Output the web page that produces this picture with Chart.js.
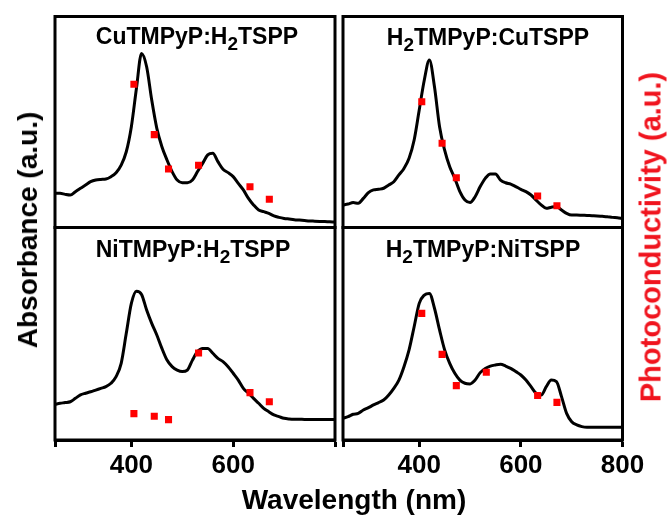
<!DOCTYPE html>
<html>
<head>
<meta charset="utf-8">
<script src="https://cdn.jsdelivr.net/npm/chart.js@4.4.1/dist/chart.umd.min.js"></script>
<style>
  html, body { margin: 0; padding: 0; background: #fff; }
  #wrap { position: relative; width: 669px; height: 518px; overflow: hidden; }
  #wrap canvas { position: absolute; left: 0; top: 0; }
  .lbl { position: absolute; font-family: 'Liberation Sans', Arial, sans-serif; font-weight: bold; white-space: nowrap; color: #000; }
  .ttl { font-size: 23px; line-height: 23px; transform: translateX(-50%); }
  .ttl .s { font-size: 19px; position: relative; top: 6px; }
  #ylab { left: 28px; top: 230px; font-size: 28px; line-height: 28px; transform: translate(-50%, -50%) rotate(-90deg); }
  #y2lab { left: 651px; top: 237px; font-size: 29px; line-height: 29px; color: #f0141e; transform: translate(-50%, -50%) rotate(-90deg); }
  #xlab { left: 354px; top: 486px; font-size: 28px; line-height: 28px; transform: translateX(-50%); }
</style>
</head>
<body>
<div id="wrap">
  <canvas id="c1" width="669" height="518"></canvas>
  <canvas id="c2" width="669" height="518"></canvas>
  <canvas id="c3" width="669" height="518"></canvas>
  <canvas id="c4" width="669" height="518"></canvas>
  <div class="lbl ttl" style="left:197px;top:25px">CuTMPyP:H<span class="s">2</span>TSPP</div>
  <div class="lbl ttl" style="left:488px;top:26px">H<span class="s">2</span>TMPyP:CuTSPP</div>
  <div class="lbl ttl" style="left:193px;top:238px">NiTMPyP:H<span class="s">2</span>TSPP</div>
  <div class="lbl ttl" style="left:483px;top:238px">H<span class="s">2</span>TMPyP:NiTSPP</div>
  <div class="lbl" id="ylab">Absorbance (a.u.)</div>
  <div class="lbl" id="y2lab">Photoconductivity (a.u.)</div>
  <div class="lbl" id="xlab">Wavelength (nm)</div>
</div>
<script>
// wavelength grid of the absorbance spectra (nm)
const wavelength = [250, 260, 270, 280, 290, 300, 310, 320, 330, 340, 350, 360, 370, 380, 390,
  400, 410, 420, 430, 440, 450, 460, 470, 480, 490, 500, 510, 520, 530, 540, 550, 560, 570, 580,
  590, 600, 610, 620, 630, 640, 650, 660, 670, 680, 690, 700, 710, 720, 730, 740, 750, 760, 770,
  780, 790, 800];

// absorbance (a.u.)
const absCuH2 = [16.2, 16.2, 15.7, 15.4, 17.0, 18.6, 20.1, 21.7, 22.5, 22.8, 23.0, 24.1, 26.0, 29.6, 35.9,
  47.8, 66.0, 82.5, 76.2, 60.4, 47.0, 38.3, 32.0, 26.5, 22.5, 21.2, 21.2, 22.5, 26.5, 30.4, 34.4, 35.2, 31.2, 27.6,
  26.0, 24.1, 20.9, 17.8, 13.8, 10.7, 8.3, 7.5, 6.7, 5.5, 4.8, 4.3, 4.0, 3.7, 3.5, 3.3, 3.1, 3.0, 2.9,
  2.8, 2.7, 2.6];
const absH2Cu = [10.7, 11.1, 11.8, 11.5, 13.8, 16.5, 17.8, 18.1, 18.6, 20.1, 21.7, 24.9, 28.0, 32.8, 41.5,
  55.7, 69.9, 79.4, 66.7, 47.8, 36.7, 28.8, 23.3, 17.0, 13.0, 11.8, 14.6, 19.4, 23.3, 25.4, 25.4, 22.5, 21.2, 20.6,
  19.4, 18.1, 17.0, 15.4, 13.0, 10.7, 9.1, 9.6, 9.9, 8.3, 6.7, 5.9, 5.9, 5.8, 5.7, 5.6, 5.5, 5.3, 5.1,
  4.8, 4.6, 4.3];
const absNiH2 = [16.8, 17.3, 17.6, 18.0, 19.6, 21.2, 22.0, 22.7, 23.5, 24.3, 25.1, 26.7, 29.8, 36.1, 50.2,
  64.3, 70.0, 68.5, 61.2, 54.9, 49.4, 43.1, 37.6, 34.5, 32.9, 32.2, 32.9, 37.6, 41.6, 43.1, 43.1, 40.8, 38.4, 36.9,
  34.5, 31.4, 28.2, 24.3, 22.0, 19.6, 17.3, 14.9, 13.3, 11.8, 11.0, 10.2, 9.9, 9.8, 9.8, 9.7, 9.7, 9.7, 9.7,
  9.7, 9.7, 9.7];
const absH2Ni = [10.2, 11.0, 12.1, 12.5, 14.1, 15.2, 16.5, 17.6, 18.8, 21.2, 24.3, 28.2, 34.5, 42.4, 53.3,
  64.3, 68.2, 69.0, 62.0, 51.8, 42.4, 36.1, 31.4, 28.2, 26.7, 26.4, 28.2, 31.7, 33.7, 34.8, 35.3, 35.6, 34.8, 33.7,
  32.2, 30.6, 28.2, 25.1, 22.0, 21.2, 25.1, 28.2, 27.5, 20.4, 12.5, 8.6, 7.1, 6.3, 6.0, 6.0, 6.0, 6.0, 6.0,
  6.0, 6.0, 6.0];

// photoconductivity (a.u.) at the laser lines
const laserNm = [405, 445, 473, 532, 633, 671];
const photoCuH2 = [67.9, 44.0, 27.7, 29.5, 19.3, 13.4];
const photoH2Cu = [59.6, 39.9, 23.6, null, 14.9, 10.3];
const photoNiH2 = [12.4, 11.2, 9.6, 40.9, 22.3, 18.0];
const photoH2Ni = [59.6, 40.3, 25.6, 31.9, 20.9, 17.7];

// x axis ticks
const tickNm = [250, 400, 600, 800];
const tickLabelsLeft = [400, 600];
const tickLabelsRight = [400, 600, 800];

Chart.defaults.font.family = "'Liberation Sans', Arial, sans-serif";

const W = 669, H = 518, AXIS_H = 50;

// box round each plot area
const frame = {
  id: 'frame',
  afterDatasetsDraw(chart) {
    const { ctx, chartArea: { left, top, right, bottom } } = chart;
    ctx.save();
    ctx.strokeStyle = '#000';
    ctx.lineWidth = 3;
    ctx.strokeRect(left, top, right - left, bottom - top);
    ctx.restore();
  }
};

function makePanel(canvasId, abs, photo, area, labels) {
  const hasAxis = labels !== null;
  const curve = wavelength.map((x, i) => ({ x: x, y: abs[i] }));
  const dots = [];
  laserNm.forEach((x, i) => {
    if (photo[i] !== null) dots.push({ x: x, y: photo[i] });
  });

  return new Chart(document.getElementById(canvasId), {
    type: 'line',
    data: {
      datasets: [
        {
          label: 'Photoconductivity',
          data: dots,
          showLine: false,
          pointStyle: 'rect',
          pointRadius: 5,
          pointBorderWidth: 0,
          pointBackgroundColor: '#ff0000',
          yAxisID: 'y2',
          order: 1
        },
        {
          label: 'Absorbance',
          data: curve,
          borderColor: '#000',
          borderWidth: 3,
          pointRadius: 0,
          cubicInterpolationMode: 'monotone',
          yAxisID: 'y',
          order: 2
        }
      ]
    },
    options: {
      responsive: false,
      animation: false,
      events: [],
      layout: {
        padding: {
          left: area.left,
          top: area.top,
          right: W - area.right,
          bottom: H - area.bottom - (hasAxis ? AXIS_H : 0)
        }
      },
      plugins: {
        legend: { display: false },
        tooltip: { enabled: false }
      },
      scales: {
        x: {
          type: 'linear',
          min: 250,
          max: 800,
          display: hasAxis,
          position: 'bottom',
          afterBuildTicks: (s) => { s.ticks = tickNm.map((v) => ({ value: v })); },
          afterFit: (s) => { if (hasAxis) s.height = AXIS_H; },
          ticks: {
            color: '#000',
            padding: 3,
            autoSkip: false,
            maxRotation: 0,
            font: { size: 26, weight: 'bold' },
            callback: (v) => (hasAxis && labels.includes(v) ? String(v) : '')
          },
          grid: {
            drawOnChartArea: false,
            drawTicks: true,
            tickLength: 7,
            tickWidth: 3,
            color: '#000'
          },
          border: { display: true, width: 3, color: '#000' }
        },
        y: { display: false, min: 0, max: 100 },
        y2: { display: false, min: 0, max: 100 }
      }
    },
    plugins: [frame]
  });
}

makePanel('c1', absCuH2, photoCuH2, { left: 55, top: 16.5, right: 335, bottom: 227.5 }, null);
makePanel('c2', absH2Cu, photoH2Cu, { left: 343, top: 16.5, right: 622.5, bottom: 227.5 }, null);
makePanel('c3', absNiH2, photoNiH2, { left: 55, top: 227.5, right: 335, bottom: 440 }, tickLabelsLeft);
makePanel('c4', absH2Ni, photoH2Ni, { left: 343, top: 227.5, right: 622.5, bottom: 440 }, tickLabelsRight);
</script>
</body>
</html>
